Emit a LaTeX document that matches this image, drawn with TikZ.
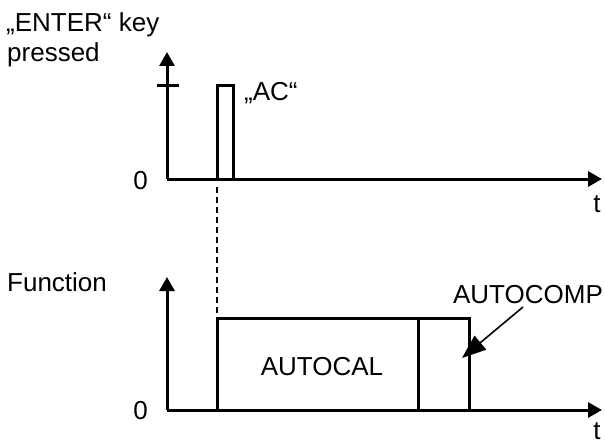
\documentclass[tikz,border=0pt]{standalone}
\usepackage{fontspec}
\setmainfont{Liberation Sans}
\usetikzlibrary{arrows.meta}
\begin{document}
\begin{tikzpicture}[x=1pt,y=-1pt,
  axis/.style={line width=3pt,-{Triangle[length=14pt,width=15pt]}},
  sig/.style={line width=3pt,line join=miter},
  lbl/.style={inner sep=0pt,font=\fontsize{26}{30}\selectfont},
  dashline/.style={line width=2.2pt,dash pattern=on 6pt off 4pt}]
\useasboundingbox (0,0) rectangle (605,444);
% top axes
\coordinate (o1) at (167,179);
\coordinate (y1) at (167,52);
\coordinate (x1) at (602,179);
\draw[axis] (o1) -- (y1);
\draw[axis] (o1) -- (x1);
\coordinate (tk1) at (157,85);
\coordinate (tk2) at (179,85);
\draw[sig] (tk1) -- (tk2);
% pulse
\coordinate (p1) at (217,179);
\coordinate (p2) at (217,85);
\coordinate (p3) at (233,85);
\coordinate (p4) at (233,179);
\draw[sig] (p1) -- (p2) -- (p3) -- (p4);
% bottom axes
\coordinate (o2) at (167,410);
\coordinate (y2) at (167,277);
\coordinate (x2) at (602,410);
\draw[axis] (o2) -- (y2);
\draw[axis] (o2) -- (x2);
% function box
\coordinate (b1) at (217,410);
\coordinate (b2) at (217,318);
\coordinate (b3) at (469,318);
\coordinate (b4) at (469,410);
\coordinate (d1) at (418,318);
\coordinate (d2) at (418,410);
\draw[sig] (b1) -- (b2) -- (b3) -- (b4);
\draw[sig] (d1) -- (d2);
% dashed link
\coordinate (dtop) at (217,187);
\draw[dashline] (dtop) -- (b1);
% labels
\node[lbl,anchor=base west] (enter1) at (6,32) {„ENTER“ key};
\node[lbl,anchor=base west] (enter2) at (7,62) {pressed};
\node[lbl,anchor=west] (ac) at (244,93) {„AC“};
\node[lbl] (z1) at (140.5,180.5) {0};
\node[lbl] (t1) at (597,204) {t};
\node[lbl,anchor=west] (func) at (7,282) {Function};
\node[lbl] (z2) at (140.5,411) {0};
\node[lbl] (t2) at (597,431) {t};
\node[lbl] (autocal) at (322,367) {AUTOCAL};
\node[lbl] (autocomp) at (528,295) {AUTOCOMP};
\coordinate (acs) at (523,307);
\coordinate (acp) at (462,358);
\draw[line width=1.6pt,-{Triangle[length=24pt,width=18pt]}] (acs) -- (acp);
\end{tikzpicture}
\end{document}
